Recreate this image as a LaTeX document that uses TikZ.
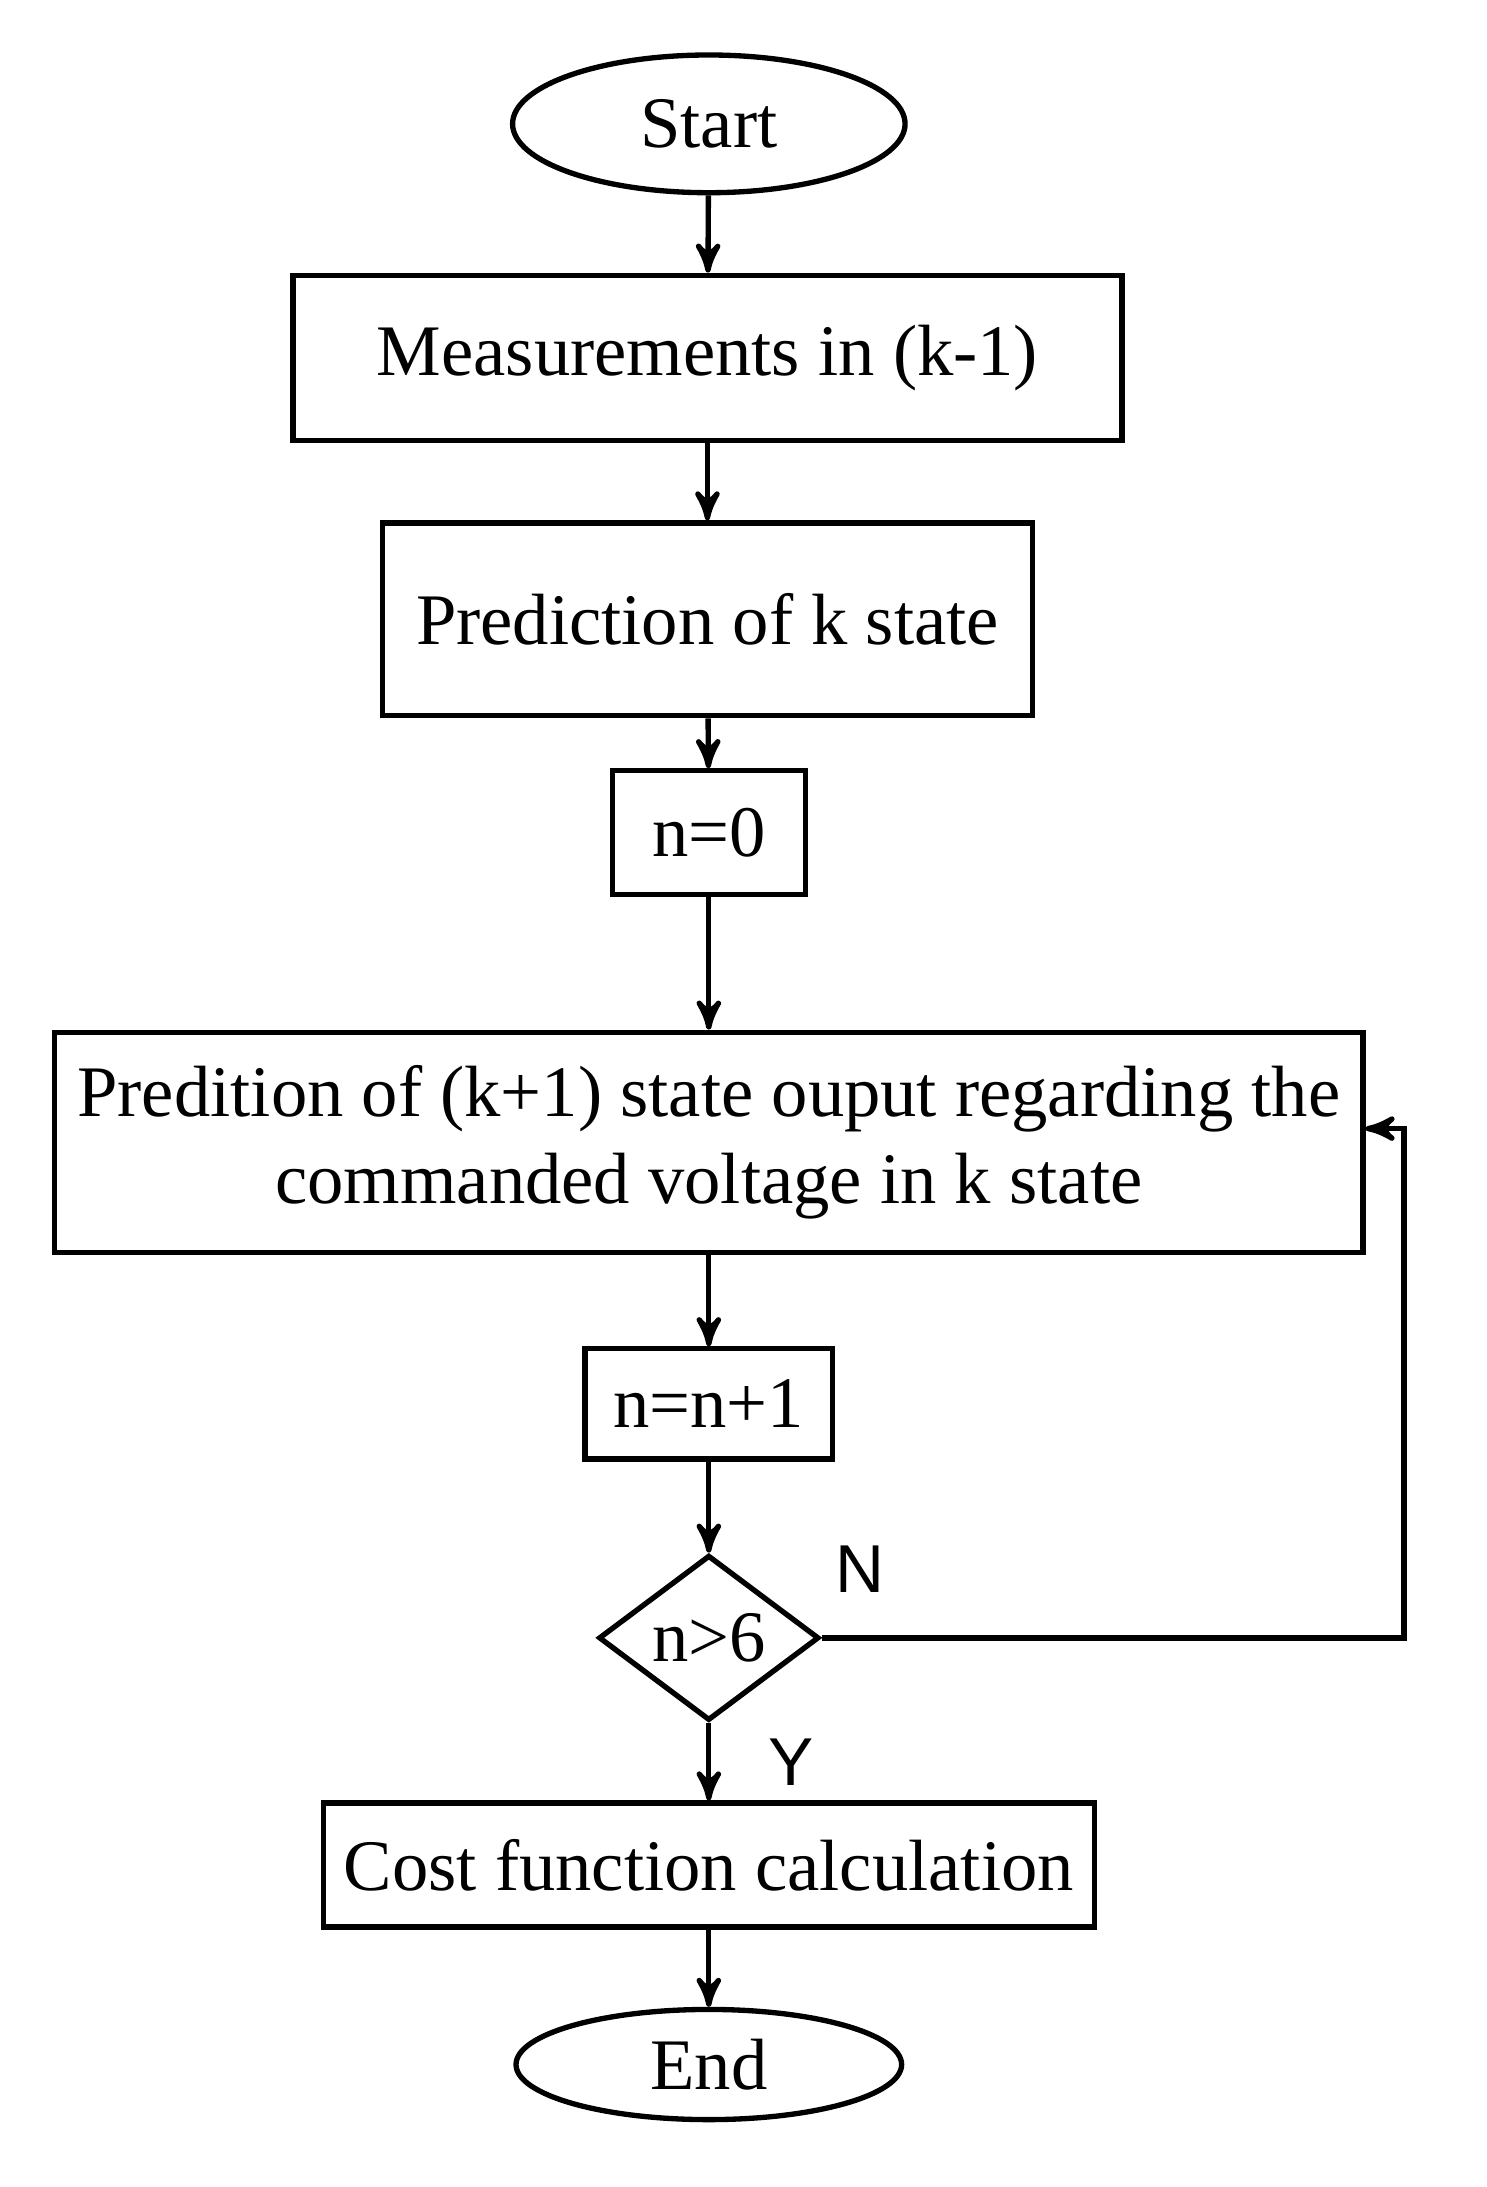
\documentclass[tikz,border=0pt]{standalone}
\usepackage{fontspec}
\setmainfont{Liberation Serif}
\newfontfamily\lblfont{Liberation Sans}
\usetikzlibrary{shapes.geometric, positioning, arrows}
\begin{document}
\begin{tikzpicture}[x=0.01cm,y=-0.01cm,->,>=stealth',line width=1.1pt,
  font=\fontsize{15}{18}\selectfont,
  term/.style={draw, ellipse, minimum width=2.85cm, minimum height=1cm, inner sep=0pt},
  proc/.style={draw, rectangle, align=center, inner sep=0pt},
  test/.style={draw, diamond, minimum width=1.6cm, minimum height=1.2cm, inner sep=0pt, aspect=1.33},
  lbl/.style={font=\lblfont\fontsize{14}{16}\selectfont}]
  \useasboundingbox (0,0) rectangle (1080,1589);
  \node[term]                                                 (start) at (515, 90)  {Start};
  \node[proc, minimum width=6.02cm, minimum height=1.2cm]     (meas)  at (514, 260) {Measurements in (k-1)};
  \node[proc, minimum width=4.72cm, minimum height=1.4cm]     (predk) at (514, 450) {Prediction of k state};
  \node[proc, minimum width=1.4cm, minimum height=0.9cm]      (init)  at (515, 605) {n=0};
  \node[proc, minimum width=9.5cm, minimum height=1.6cm]      (predn) at (515, 830) {Predition of (k+1) state ouput regarding the\\commanded voltage in k state};
  \node[proc, minimum width=1.8cm, minimum height=0.8cm]      (inc)   at (515, 1020) {n=n+1};
  \node[test]                                                 (check) at (515, 1190) {n>6};
  \node[proc, minimum width=5.6cm, minimum height=0.9cm]      (cost)  at (515, 1355) {Cost function calculation};
  \node[term, minimum width=2.8cm, minimum height=0.8cm]      (end)   at (515, 1500) {End};
  \coordinate (loop) at (1020, 1190);
  \draw (start) -- (meas);
  \draw (meas) -- (predk);
  \draw (predk) -- (init);
  \draw (init) -- (predn);
  \draw (predn) -- (inc);
  \draw (inc) -- (check);
  \draw (check) -- node[lbl, right=0.3cm]{Y} (cost);
  \draw (cost) -- (end);
  \draw (check.east) -- (loop) |- ([yshift=0.1cm]predn.east);
  \node[lbl] (nlbl) at (625, 1140) {N};
\end{tikzpicture}
\end{document}
